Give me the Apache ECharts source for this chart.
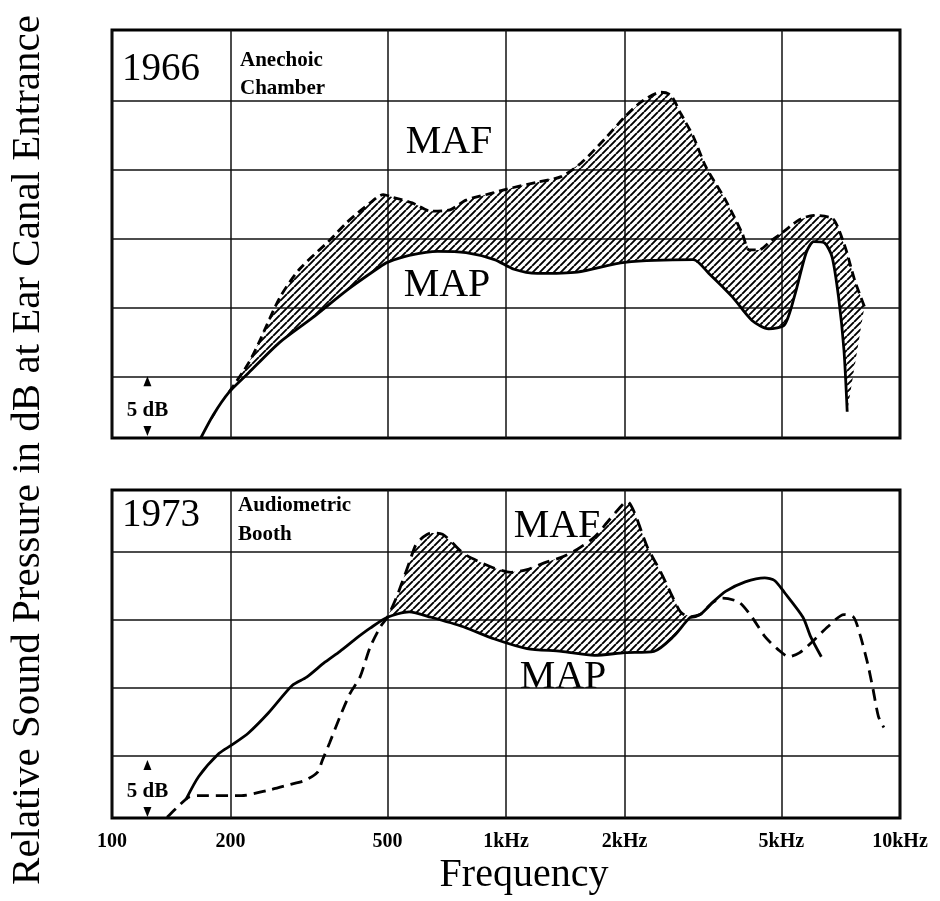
<!DOCTYPE html>
<html>
<head>
<meta charset="utf-8">
<script src="https://cdn.jsdelivr.net/npm/echarts@6/dist/echarts.min.js"></script>
<style>
  html, body { margin: 0; padding: 0; background: #fff; }
  #chart { width: 940px; height: 901px; }
</style>
</head>
<body>
<div id="chart"></div>
<script>
// frequency axis ticks (Hz) and their labels
const tickFreqs = [100, 200, 500, 1000, 2000, 5000, 10000];
const tickLabels = ["100", "200", "500", "1kHz", "2kHz", "5kHz", "10kHz"];
const dbGrid1966 = [0, 5, 10, 15, 20];
const dbGrid1973 = [0, 5, 10, 15];

// 1966, anechoic chamber
const mapFreq1966 = [168, 181, 198, 222, 266, 323, 395, 480, 500, 568, 671, 792, 935, 1048, 1200, 1517, 2000, 2987, 3273, 3754, 4211, 4641, 5096, 5427, 5780, 6040, 6433, 6723, 6982, 7205, 7345];
const mapDb1966 = [-4.4, -2.7, -1.1, 0.3, 2.5, 4.3, 6.3, 8.0, 8.3, 8.8, 9.1, 9.0, 8.5, 7.8, 7.5, 7.6, 8.3, 8.5, 7.5, 5.8, 4.1, 3.5, 3.8, 6.1, 9.0, 9.8, 9.7, 8.7, 5.8, 2.0, -2.5];
const mafFreq1966 = [198, 222, 236, 266, 299, 357, 395, 452, 488, 517, 578, 645, 721, 792, 920, 1006, 1200, 1381, 1554, 1778, 2000, 2204, 2472, 2617, 2772, 2987, 3217, 3608, 3977, 4140, 4383, 4722, 5000, 5566, 6040, 6723, 6939, 7297, 7674, 8123];
const mafDb1966 = [-1.1, 1.0, 2.5, 5.7, 7.8, 9.9, 11.2, 12.6, 13.2, 13.0, 12.6, 12.0, 12.1, 12.8, 13.3, 13.6, 14.1, 14.5, 15.5, 17.2, 18.8, 19.9, 20.6, 20.4, 19.1, 17.4, 15.2, 12.8, 10.4, 9.2, 9.2, 9.9, 10.4, 11.4, 11.7, 11.5, 10.9, 9.2, 7.0, 5.1];

// 1973, audiometric booth
const mapFreq1973 = [154, 166, 187, 201, 222, 250, 287, 312, 347, 379, 419, 452, 500, 568, 645, 779, 935, 1131, 1381, 1677, 2000, 2375, 2664, 2936, 3109, 3349, 3608, 4046, 4537, 4804, 5096, 5671, 5927, 6314];
const mapDb1973 = [-3.2, -1.5, 0.2, 0.8, 1.7, 3.2, 5.2, 5.8, 6.9, 7.7, 8.7, 9.4, 10.2, 10.6, 10.2, 9.5, 8.6, 7.9, 7.7, 7.4, 7.6, 7.7, 8.8, 10.2, 10.4, 11.3, 12.1, 12.8, 13.1, 12.9, 12.0, 10.2, 8.8, 7.3];
const mafFreq1973 = [138, 146, 157, 169, 213, 250, 282, 308, 332, 342, 357, 379, 402, 426, 452, 480, 500, 528, 547, 568, 590, 617, 645, 690, 729, 779, 852, 935, 1030, 1131, 1250, 1381, 1518, 1677, 1810, 1965, 2034, 2118, 2281, 2472, 2617, 2772, 2936, 3109, 3349, 3546, 3908, 4211, 4537, 4915, 5224, 5566, 6040, 6556, 7205, 7626, 7920, 8278, 8543, 8817, 9100];
const mafDb1973 = [-4.5, -3.8, -3.0, -2.9, -2.9, -2.5, -2.1, -1.8, -1.2, -0.3, 1.0, 2.9, 4.6, 5.8, 8.0, 9.5, 10.2, 11.7, 12.9, 14.2, 15.5, 16.1, 16.4, 16.3, 15.7, 14.9, 14.3, 13.8, 13.5, 13.7, 14.2, 14.6, 15.2, 16.1, 17.2, 18.4, 18.7, 17.9, 15.4, 13.5, 12.0, 10.6, 10.2, 10.4, 11.3, 11.6, 11.3, 10.2, 8.8, 7.8, 7.3, 7.6, 8.5, 9.5, 10.4, 10.2, 8.9, 6.8, 4.9, 2.9, 2.1];
// the shaded MAF-MAP gap in 1973 runs between these frequencies
const gap1973 = [500, 2936];

const SERIF = "'Liberation Serif', 'DejaVu Serif', serif";

function pairs(freqs, dbs) {
  return freqs.map((f, i) => [Math.log10(f), dbs[i]]);
}
function band(mafPts, mapPts) {
  return mafPts.concat(mapPts.slice().reverse());
}
function hatch(size, width) {
  const c = document.createElement("canvas");
  c.width = c.height = size;
  const g = c.getContext("2d");
  g.strokeStyle = "#000";
  g.lineWidth = width;
  g.beginPath();
  for (let k = -1; k <= 1; k++) {
    g.moveTo(k * size, size);
    g.lineTo(k * size + size, 0);
  }
  g.stroke();
  return c;
}

const maf66 = pairs(mafFreq1966, mafDb1966);
const map66 = pairs(mapFreq1966, mapDb1966);
const maf73 = pairs(mafFreq1973, mafDb1973);
const map73 = pairs(mapFreq1973, mapDb1973);
const inGap = p => p[0] >= Math.log10(gap1973[0]) - 1e-9 && p[0] <= Math.log10(gap1973[1]) + 1e-9;
const poly66 = band(maf66, map66);
const poly73 = band(maf73.filter(inGap), map73.filter(inGap));

const tickLogs = tickFreqs.map(f => Math.log10(f));
const hatchFill = { image: hatch(7, 1.9), repeat: "repeat" };

const chart = echarts.init(document.getElementById("chart"));

function xAxisFor(i) {
  return {
    type: "value", gridIndex: i, min: 2, max: 4,
    axisLine: { show: false },
    axisTick: { show: false, customValues: tickLogs },
    axisLabel: {
      show: i === 1,
      customValues: tickLogs,
      margin: 14,
      color: "#000",
      fontFamily: SERIF,
      fontWeight: "bold",
      fontSize: 20,
      formatter: v => {
        let best = 0;
        tickLogs.forEach((t, k) => { if (Math.abs(t - v) < Math.abs(tickLogs[best] - v)) best = k; });
        return tickLabels[best];
      }
    },
    splitLine: { show: true, lineStyle: { color: "#111", width: 1.5 } }
  };
}
function yAxisFor(i, min, max, grid) {
  return {
    type: "value", gridIndex: i, min: min, max: max,
    axisLine: { show: false },
    axisTick: { show: false, customValues: grid },
    axisLabel: { show: false },
    splitLine: { show: true, lineStyle: { color: "#111", width: 1.5 } }
  };
}
function hatchSeries(i, poly) {
  return {
    type: "custom", xAxisIndex: i, yAxisIndex: i, z: 1, silent: true, clip: true,
    data: [[2, 0]],
    renderItem: (params, api) => ({
      type: "polygon",
      shape: { points: poly.map(p => api.coord(p)) },
      style: { fill: hatchFill, stroke: null }
    })
  };
}
function lineSeries(i, data, dash) {
  return {
    type: "line", xAxisIndex: i, yAxisIndex: i, z: 3, data: data,
    symbol: "none", smooth: 0.25,
    lineStyle: { color: "#000", width: 2.8, type: dash || "solid" }
  };
}
function scaleMarker(i, top, bottom, mid) {
  const x = Math.log10(123);
  return [{
    type: "scatter", xAxisIndex: i, yAxisIndex: i, z: 4, silent: true,
    symbol: "triangle", symbolSize: [8, 10],
    itemStyle: { color: "#000", opacity: 1 },
    data: [
      { value: [x, top] },
      { value: [x, bottom], symbolRotate: 180 }
    ]
  }, {
    type: "scatter", xAxisIndex: i, yAxisIndex: i, z: 4, silent: true,
    symbolSize: 1,
    itemStyle: { color: "#fff", opacity: 1 },
    data: [[x, mid]],
    label: { show: true, position: "inside", formatter: "5 dB", color: "#000", opacity: 1, fontFamily: SERIF, fontWeight: "bold", fontSize: 21 }
  }];
}
function text(x, y, str, size, opts) {
  return Object.assign({
    type: "text", x: x, y: y, silent: true,
    style: {
      text: str, fill: "#000", font: (opts && opts.weight ? opts.weight + " " : "") + size + "px " + SERIF,
      align: (opts && opts.align) || "center", verticalAlign: "middle"
    }
  }, opts && opts.rotation !== undefined ? { rotation: opts.rotation } : {});
}

const option = {
  animation: false,
  backgroundColor: "#fff",
  grid: [
    { left: 112, top: 30, width: 788, height: 408, show: true, borderColor: "#000", borderWidth: 3, backgroundColor: "transparent" },
    { left: 112, top: 490, width: 788, height: 328, show: true, borderColor: "#000", borderWidth: 3, backgroundColor: "transparent" }
  ],
  xAxis: [xAxisFor(0), xAxisFor(1)],
  yAxis: [yAxisFor(0, -4.4, 25.1, dbGrid1966), yAxisFor(1, -4.55, 19.55, dbGrid1973)],
  series: [
    hatchSeries(0, poly66),
    lineSeries(0, map66),
    lineSeries(0, maf66, [9, 5]),
    hatchSeries(1, poly73),
    lineSeries(1, map73),
    lineSeries(1, maf73, [12, 7])
  ].concat(scaleMarker(0, -0.3, -3.9, -2.4), scaleMarker(1, -0.66, -4.1, -2.6)),
  graphic: [
    text(161, 70, "1966", 39),
    text(240, 61, "Anechoic", 21, { align: "left", weight: "bold" }),
    text(240, 89, "Chamber", 21, { align: "left", weight: "bold" }),
    text(449, 142, "MAF", 40),
    text(447, 285, "MAP", 40),
    text(161, 516, "1973", 39),
    text(238, 506, "Audiometric", 21, { align: "left", weight: "bold" }),
    text(238, 535, "Booth", 21, { align: "left", weight: "bold" }),
    text(557, 526, "MAF", 40),
    text(563, 677, "MAP", 40),
    text(524, 875, "Frequency", 40),
    text(28, 450, "Relative Sound Pressure in dB at Ear Canal Entrance", 41, { rotation: Math.PI / 2 })
  ]
};

chart.setOption(option);
</script>
</body>
</html>
